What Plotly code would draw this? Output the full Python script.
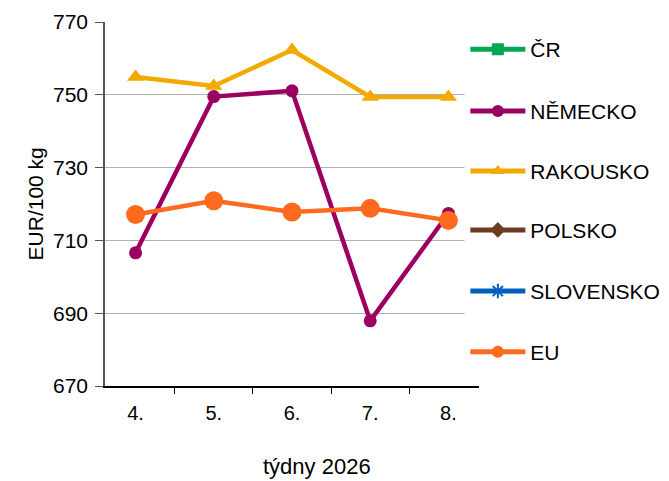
import plotly.graph_objects as go

weeks = ["4.", "5.", "6.", "7.", "8."]
cr = [None, None, None, None, None]
nemecko = [706.6, 749.5, 751.1, 687.9, 717.4]
rakousko = [754.9, 752.4, 762.3, 749.4, 749.4]
polsko = [None, None, None, None, None]
slovensko = [None, None, None, None, None]
eu = [717.1, 720.9, 717.8, 718.8, 715.5]

y_ticks = [670, 690, 710, 730, 750, 770]
x_title = "týdny 2026"
y_title = "EUR/100 kg"

series = [
    ("ČR", cr, "#00A651", "square", 10),
    ("NĚMECKO", nemecko, "#9B0060", "circle", 13),
    ("RAKOUSKO", rakousko, "#F2A900", "triangle-up", 15),
    ("POLSKO", polsko, "#6E3B23", "diamond", 10),
    ("SLOVENSKO", slovensko, "#0060C0", "asterisk", 10),
    ("EU", eu, "#FF6A1F", "circle", 19),
]

W, H = 669, 481
ML, MR, MT, MB = 97, 185, 14, 103
font = "Liberation Sans, Arial, sans-serif"

# vertical slots of legend entries (fraction of plot height from top)
legend_slots = [0.0, 0.17, 0.335, 0.4965, 0.6645, 0.8315]

fig = go.Figure()
legends = {}
for i, (name, vals, color, sym, size) in enumerate(series):
    lg = "legend" if i == 0 else f"legend{i + 1}"
    fig.add_trace(go.Scatter(
        x=weeks, y=vals, name=name, mode="lines+markers",
        line=dict(color=color, width=4.5),
        marker=dict(symbol=sym, size=size, color=color,
                    line=dict(color=color, width=1.5 if sym == "asterisk" else 0)),
        legend=lg,
    ))
    legends[lg] = dict(
        x=0.9635, y=0.9807 - legend_slots[i], xanchor="left", yanchor="top",
        itemwidth=55, itemsizing="constant",
        font=dict(size=21, family=font, color="black"),
        bgcolor="rgba(0,0,0,0)",
    )

fig.update_layout(
    width=W, height=H,
    margin=dict(l=ML, r=MR, t=MT, b=MB),
    paper_bgcolor="white", plot_bgcolor="white",
    font=dict(family=font, size=20, color="black"),
    showlegend=True,
    xaxis=dict(
        type="category", tickson="boundaries", ticks="outside", ticklen=6,
        tickcolor="black", showline=True, linecolor="black", linewidth=1.5,
        showgrid=False,
        tickfont=dict(size=20), ticklabelstandoff=8, automargin=False,
    ),
    yaxis=dict(
        range=[670, 770], tickvals=y_ticks, ticks="outside", ticklen=8,
        tickcolor="#555", showline=True, linecolor="#555", linewidth=1.5,
        showgrid=True, gridcolor="#B0B0B0", gridwidth=1.2, zeroline=False,
        tickfont=dict(size=21), ticklabelstandoff=3, automargin=False,
    ),
    shapes=[dict(type="rect", xref="paper", yref="paper",
                 x0=0.9612, x1=1.0, y0=0.01, y1=1.003,
                 fillcolor="white", line=dict(width=0), layer="above")],
    annotations=[
        dict(text=x_title, xref="paper", yref="paper", x=0.5677, y=-0.2225,
             xanchor="center", yanchor="middle", showarrow=False,
             font=dict(size=22, family=font, color="black")),
        dict(text=y_title, xref="paper", yref="paper", x=-0.186, y=0.5,
             xanchor="center", yanchor="middle", showarrow=False, textangle=-90,
             font=dict(size=21, family=font, color="black")),
    ],
    **legends,
)

fig.write_html("out.html")
